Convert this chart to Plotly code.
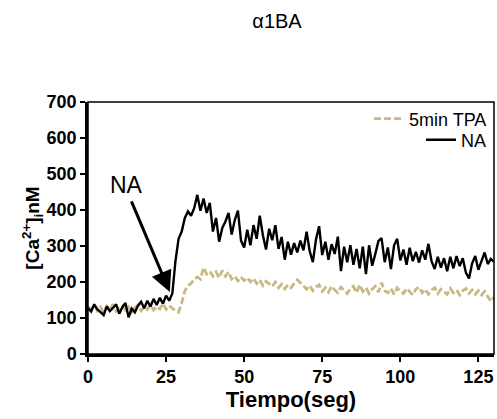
import plotly.graph_objects as go

time_s = list(range(0, 131))

na_values = [128, 118, 138, 124, 116, 108, 132, 119, 128, 138,
             112, 130, 142, 102, 126, 116, 134, 145, 127, 148,
             132, 153, 136, 156, 140, 162, 148, 168, 258, 320,
             340, 378, 396, 384, 405, 442, 398, 432, 392, 420,
             340, 378, 312, 350, 368, 392, 332, 372, 398, 315,
             296, 345, 302, 358, 320, 384, 330, 290, 348, 316,
             358, 292, 325, 262, 312, 276, 308, 282, 315, 288,
             340, 285, 255, 318, 355, 275, 312, 262, 305, 278,
             326, 230, 298, 255, 302, 248, 292, 238, 298, 222,
             302, 245, 278, 314, 322, 255, 296, 236, 302, 320,
             260, 290, 248, 295, 258, 284, 254, 288, 262, 306,
             258, 236, 270, 240, 266, 230, 270, 238, 272, 244,
             266, 226, 210, 252, 272, 234, 258, 282, 250, 264,
             256]

tpa_values = [131, 124, 136, 120, 130, 116, 133, 123, 138, 119,
              129, 134, 122, 131, 116, 128, 136, 120, 131, 124,
              137, 122, 132, 125, 140, 124, 134, 127, 120, 116,
              142, 175, 190, 196, 207, 214, 208, 240, 222, 230,
              216, 228, 212, 232, 216, 228, 208, 216, 203, 214,
              204, 212, 200, 210, 196, 206, 190, 202, 194, 188,
              200, 184, 194, 181, 192, 184, 196, 206, 198, 188,
              180, 190, 176, 186, 192, 174, 184, 172, 188, 178,
              170, 186, 176, 168, 182, 188, 170, 192, 174, 184,
              168, 180, 188, 172, 198, 176, 170, 182, 166, 184,
              174, 168, 182, 174, 164, 180, 186, 170, 180, 166,
              178, 184, 168, 180, 172, 166, 182, 170, 178, 164,
              176, 182, 168, 178, 166, 176, 164, 174, 160, 146,
              158]

x_ticks = [0, 25, 50, 75, 100, 125]
y_ticks = [0, 100, 200, 300, 400, 500, 600, 700]

FONT = "Arial, Liberation Sans, sans-serif"
TAN = "#C8B882"

fig = go.Figure()
fig.add_trace(go.Scatter(x=time_s, y=tpa_values, mode="lines", name="5min TPA",
                         line=dict(color=TAN, width=2.8, dash="7px,3px"),
                         legend="legend"))
fig.add_trace(go.Scatter(x=time_s, y=na_values, mode="lines", name="NA",
                         line=dict(color="black", width=2.4),
                         legend="legend2"))

fig.update_layout(
    width=497, height=419,
    margin=dict(l=88, r=3, t=102, b=65),
    paper_bgcolor="white", plot_bgcolor="white",
    font=dict(family=FONT, color="black"),
    title=dict(text="α1BA", x=277/497, xanchor="center", y=1-21/419, yanchor="middle",
               font=dict(size=20, family=FONT)),
    showlegend=True,
    legend=dict(x=0.995, xanchor="right", y=0.9325, yanchor="middle",
                bgcolor="rgba(0,0,0,0)", font=dict(size=18), itemwidth=30,
                tracegroupgap=0),
    legend2=dict(x=0.995, xanchor="right", y=0.849, yanchor="middle",
                 bgcolor="rgba(0,0,0,0)", font=dict(size=18), itemwidth=30,
                 tracegroupgap=0),
    xaxis=dict(range=[0, 130], tickvals=x_ticks, ticktext=[f"<b>{v}</b>" for v in x_ticks],
               showgrid=False, zeroline=False,
               showline=True, linecolor="black", linewidth=2.5,
               ticks="outside", ticklen=5, tickwidth=2, tickcolor="black",
               tickfont=dict(size=18, family=FONT),
               title=dict(text="<b>Tiempo(seg)</b>", font=dict(size=22), standoff=5)),
    yaxis=dict(range=[0, 700], tickvals=y_ticks, ticktext=[f"<b>{v}</b>" for v in y_ticks],
               showgrid=False, zeroline=False,
               showline=True, linecolor="black", linewidth=2.5,
               ticks="outside", ticklen=5, tickwidth=2, tickcolor="black",
               tickfont=dict(size=18, family=FONT),
               title=dict(text="<b>[Ca<sup>2+</sup>]<sub>i</sub>nM</b>", font=dict(size=19), standoff=2)),
    shapes=[dict(type="rect", xref="paper", yref="paper", x0=0, x1=1, y0=0, y1=1,
                 line=dict(color="black", width=1.5))],
    annotations=[
        dict(x=26.2, y=172, ax=13.7, ay=428, xref="x", yref="y", axref="x", ayref="y",
             text="", showarrow=True, arrowhead=2, arrowsize=1.4, arrowwidth=3,
             arrowcolor="black"),
        dict(x=12.4, y=470, xref="x", yref="y", text="NA", showarrow=False,
             font=dict(size=23, family=FONT)),
    ],
)

fig.write_html("out.html")
